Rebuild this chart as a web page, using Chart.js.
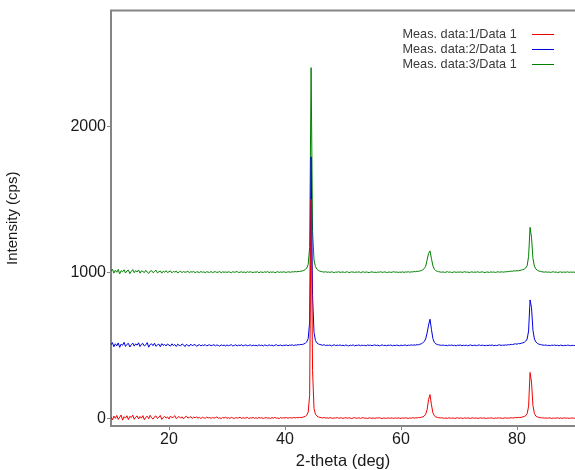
<!DOCTYPE html>
<html>
<head>
<meta charset="utf-8">
<script src="https://cdn.jsdelivr.net/npm/chart.js@4/dist/chart.umd.min.js"></script>
<style>
  html, body { margin: 0; padding: 0; background: #fff; }
</style>
</head>
<body>
<canvas id="xrd" width="575" height="470"></canvas>
<script>
// scan: 10 to 90 deg, 0.25 deg step (321 points per pattern)
const scanStart = 10;
const scanStep = 0.25;

const seriesNames = ["Meas. data:1/Data 1", "Meas. data:2/Data 1", "Meas. data:3/Data 1"];
const seriesColors = ["#f00000", "#0000e0", "#008000"];

const xTicks = [20, 40, 60, 80];
const yTicks = [0, 1000, 2000];

// one row = 5 deg
const data1 = [
    12, -8, 18, 2, 22, -5, 10, 25, -10, 14, 4, 20, -6, 16, 8, 24, -4, 11, 19, -2,
    15, 3, 21, -7, 9, 17, 0, 23, 6, -3, 13, 19, 1, 10, 22, -5, 8, 16, 4, 12,
    -2, 18, 7, 11, 20, 0, 9, 15, 3, 13, -1, 10, 17, 5, 8, 14, 2, 11, 6, 12,
    4, 9, 1, 10, 6, 3, 11, 5, 8, 2, 9, 4, 7, 12, 3, 6, 1, 8, 5, 10,
    3, 7, 2, 9, 5, 1, 8, 4, 6, 10, 2, 7, 3, 5, 9, 1, 6, 4, 8, 3,
    6, 2, 9, 4, 7, 1, 5, 8, 3, 6, 2, 7, 4, 9, 3, 5, 1, 8, 4, 6,
    5, 8, 3, 7, 6, 4, 9, 5, 8, 6, 9, 7, 10, 12, 16, 24, 45, 160, 1500, 330,
    70, 30, 18, 12, 9, 7, 5, 8, 4, 6, 3, 7, 5, 2, 6, 4, 8, 3, 5, 6,
    2, 5, 7, 3, 6, 4, 1, 5, 8, 3, 4, 6, 2, 5, 7, 3, 4, 1, 6, 4,
    3, 5, 2, 6, 4, 7, 3, 1, 5, 4, 2, 6, 3, 5, 4, 2, 6, 3, 5, 4,
    2, 5, 3, 6, 4, 2, 5, 3, 7, 4, 6, 5, 8, 7, 10, 12, 18, 30, 62, 130,
    165, 95, 40, 20, 12, 9, 7, 5, 6, 4, 3, 5, 2, 6, 4, 3, 5, 2, 4, 6,
    3, 5, 4, 2, 6, 3, 5, 4, 2, 6, 4, 3, 5, 2, 4, 6, 3, 5, 4, 2,
    5, 3, 6, 4, 2, 5, 3, 6, 4, 5, 2, 4, 6, 3, 5, 4, 7, 5, 6, 8,
    6, 9, 7, 10, 12, 15, 20, 34, 85, 316, 250, 90, 35, 18, 12, 9, 7, 6, 5, 4,
    5, 3, 6, 4, 2, 5, 3, 4, 6, 2, 5, 3, 4, 6, 3, 5, 2, 4, 5, 3,
    4
];

const data2 = [
    505, 520, 492, 512, 498, 518, 488, 510, 502, 522, 494, 508, 515, 490, 506, 517, 496, 511, 503, 519,
    493, 509, 514, 497, 505, 520, 489, 507, 512, 499, 516, 495, 504, 510, 492, 513, 501, 508, 497, 511,
    503, 496, 512, 500, 507, 494, 509, 502, 498, 511, 505, 493, 508, 501, 496, 510, 499, 504, 507, 495,
    502, 506, 498, 504, 500, 507, 497, 503, 505, 499, 502, 506, 498, 504, 501, 496, 505, 500, 503, 498,
    504, 499, 502, 506, 497, 501, 505, 498, 503, 500, 506, 497, 502, 504, 499, 501, 505, 498, 503, 500,
    502, 498, 505, 500, 503, 497, 504, 501, 499, 505, 500, 503, 498, 502, 506, 499, 501, 504, 498, 502,
    501, 504, 499, 503, 502, 505, 500, 504, 503, 506, 505, 508, 507, 511, 516, 525, 548, 660, 1790, 840,
    590, 535, 518, 511, 507, 505, 502, 506, 500, 503, 501, 504, 498, 502, 505, 499, 503, 501, 504, 500,
    502, 499, 504, 501, 497, 503, 500, 505, 498, 502, 501, 504, 499, 503, 500, 502, 498, 504, 501, 503,
    499, 502, 504, 500, 503, 498, 501, 505, 500, 502, 499, 503, 501, 504, 498, 502, 500, 503, 501, 499,
    503, 500, 502, 504, 499, 503, 501, 505, 502, 504, 503, 506, 505, 509, 512, 518, 528, 545, 585, 640,
    680, 610, 548, 522, 512, 507, 505, 503, 501, 504, 500, 502, 499, 503, 501, 504, 500, 502, 498, 503,
    501, 504, 499, 502, 500, 503, 498, 502, 504, 500, 501, 503, 499, 502, 504, 500, 503, 501, 499, 502,
    500, 503, 501, 504, 499, 502, 500, 503, 505, 501, 503, 502, 504, 503, 506, 505, 508, 507, 510, 512,
    509, 514, 512, 516, 518, 522, 530, 545, 600, 812, 760, 605, 545, 525, 515, 510, 507, 505, 503, 502,
    504, 500, 502, 499, 503, 501, 504, 500, 502, 498, 503, 501, 499, 502, 500, 503, 501, 499, 502, 500,
    501
];

const data3 = [
    1008, 1022, 995, 1015, 1001, 1020, 990, 1012, 1004, 1018, 996, 1010, 1016, 992, 1007, 1019, 998, 1013, 1003, 1017,
    995, 1011, 1006, 999, 1014, 1002, 993, 1009, 1012, 998, 1006, 1015, 997, 1004, 1010, 995, 1008, 1001, 1012, 999,
    1005, 1010, 997, 1007, 1002, 1009, 996, 1004, 1008, 999, 1006, 1001, 1003, 1009, 997, 1005, 1002, 1007, 998, 1004,
    1003, 999, 1006, 1001, 1004, 998, 1005, 1002, 1000, 1006, 999, 1003, 1005, 1000, 1002, 1006, 998, 1004, 1001, 1003,
    1000, 1004, 1002, 998, 1005, 1001, 1003, 1006, 999, 1002, 1004, 1000, 1003, 998, 1005, 1001, 1004, 1002, 999, 1003,
    1001, 1005, 998, 1003, 1002, 1000, 1004, 1001, 1006, 999, 1003, 1001, 1004, 998, 1002, 1005, 1000, 1003, 1001, 1004,
    1002, 1000, 1004, 1003, 1001, 1005, 1003, 1006, 1004, 1007, 1006, 1009, 1010, 1014, 1020, 1030, 1055, 1170, 2400, 1280,
    1085, 1040, 1022, 1013, 1009, 1006, 1004, 1002, 1005, 1001, 1003, 1000, 1004, 1002, 999, 1003, 1001, 1005, 1000, 1002,
    1003, 1000, 1002, 1005, 999, 1001, 1004, 1002, 1000, 1003, 1001, 1005, 998, 1002, 1004, 1000, 1003, 1001, 999, 1002,
    1004, 1000, 1002, 999, 1003, 1001, 1005, 1000, 1002, 1004, 999, 1001, 1003, 1000, 1002, 1005, 1001, 1003, 1000, 1002,
    1001, 1004, 1000, 1003, 1002, 1005, 1001, 1004, 1003, 1006, 1005, 1008, 1007, 1010, 1013, 1018, 1026, 1042, 1085, 1130,
    1147, 1095, 1045, 1022, 1012, 1008, 1005, 1003, 1001, 1004, 1000, 1002, 1005, 1001, 1003, 999, 1002, 1004, 1000, 1003,
    1001, 1004, 1000, 1002, 1005, 1001, 1003, 999, 1002, 1004, 1000, 1003, 1001, 1005, 1000, 1002, 1004, 1001, 999, 1003,
    1002, 1000, 1004, 1001, 1003, 1000, 1002, 1005, 1001, 1004, 1003, 1002, 1005, 1004, 1007, 1006, 1009, 1008, 1011, 1010,
    1012, 1011, 1014, 1016, 1019, 1023, 1030, 1045, 1110, 1308, 1240, 1095, 1043, 1024, 1015, 1010, 1007, 1005, 1003, 1002,
    1004, 1001, 1003, 1000, 1002, 1005, 1001, 1003, 999, 1002, 1004, 1000, 1003, 1001, 1002, 1004, 1000, 1003, 1001, 1002,
    1001
];

const twoTheta = data1.map((_, i) => scanStart + i * scanStep);

const axisGrey = "#858585";
const fontFamily = "'Liberation Sans', Arial, sans-serif";

// frame line on top + legend with the line sample on the right
const framePlugin = {
    id: "frame",
    afterDraw(chart) {
        let ctx = chart.ctx;
        let area = chart.chartArea;
        ctx.save();
        ctx.strokeStyle = axisGrey;
        ctx.lineWidth = 2;
        ctx.beginPath();
        ctx.moveTo(area.left - 1, area.top);
        ctx.lineTo(area.right, area.top);
        ctx.stroke();

        ctx.font = "12.7px " + fontFamily;
        ctx.textBaseline = "middle";
        ctx.textAlign = "left";
        chart.data.datasets.forEach((ds, i) => {
            let y = 34 + i * 15;
            ctx.fillStyle = "#3a3a3a";
            ctx.fillText(ds.label, 402.5, y);
            ctx.strokeStyle = ds.borderColor;
            ctx.lineWidth = 1;
            ctx.beginPath();
            ctx.moveTo(532, y + 0.5);
            ctx.lineTo(554, y + 0.5);
            ctx.stroke();
        });
        ctx.restore();
    }
};

const seriesData = [data1, data2, data3];

new Chart(document.getElementById("xrd"), {
    type: "line",
    data: {
        labels: twoTheta,
        datasets: seriesData.map((d, i) => ({
            label: seriesNames[i],
            data: d,
            borderColor: seriesColors[i],
            borderWidth: 1,
            pointRadius: 0,
            fill: false,
            tension: 0
        }))
    },
    options: {
        responsive: false,
        animation: false,
        devicePixelRatio: 1,
        layout: { padding: { top: 10, right: 0, bottom: 0, left: 0 } },
        plugins: {
            legend: { display: false },
            tooltip: { enabled: false }
        },
        scales: {
            x: {
                type: "linear",
                min: 10,
                max: 90,
                afterBuildTicks: axis => { axis.ticks = xTicks.map(v => ({ value: v })); },
                afterFit: axis => { axis.height = 44; },
                border: { display: true, color: axisGrey, width: 2 },
                grid: { display: true, drawOnChartArea: false, drawTicks: true, tickLength: 4, color: axisGrey, lineWidth: 1 },
                ticks: { color: "#1a1a1a", font: { family: fontFamily, size: 16 }, padding: 0, maxRotation: 0 },
                title: { display: true, text: "2-theta (deg)", color: "#1a1a1a", font: { family: fontFamily, size: 16.5, lineHeight: 1 }, padding: 0 }
            },
            y: {
                min: -50,
                max: 2790,
                afterBuildTicks: axis => { axis.ticks = yTicks.map(v => ({ value: v })); },
                afterFit: axis => { axis.width = 111; },
                border: { display: true, color: axisGrey, width: 2 },
                grid: { display: true, drawOnChartArea: false, drawTicks: true, tickLength: 4, color: axisGrey, lineWidth: 1 },
                ticks: { color: "#1a1a1a", font: { family: fontFamily, size: 16 }, padding: 1, callback: v => String(v) },
                title: { display: true, text: "Intensity (cps)", color: "#1a1a1a", font: { family: fontFamily, size: 15 }, padding: 4 }
            }
        }
    },
    plugins: [framePlugin]
});
</script>
</body>
</html>
